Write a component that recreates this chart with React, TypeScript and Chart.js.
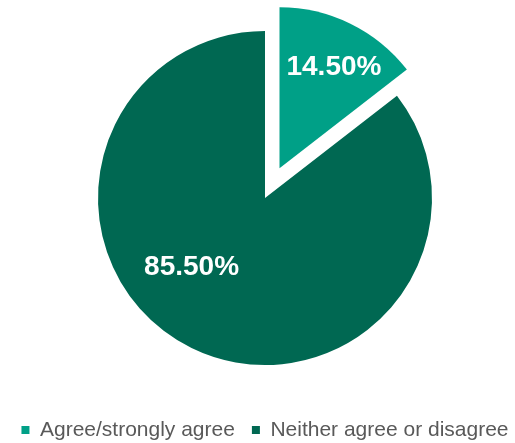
import { useEffect, useRef } from 'react';
import { Chart, registerables } from 'chart.js';

Chart.register(...registerables);

// ---- data ----
const categories = ['Agree/strongly agree', 'Neither agree or disagree'];
const shares = [14.5, 85.5];
const valueLabels = ['14.50%', '85.50%'];

// ---- styling ----
const sliceColors = ['#00A087', '#006852'];
const explodeDistance = [33, 0];
const sliceRadiusScale = [0.965, 1];
const labelRadiusFrac = [0.71, 0.605];
const labelAngleShiftDeg = [2.3, 20.5];

const FONT = '"Liberation Sans", Arial, sans-serif';

const explodePlugin = {
  id: 'explodeSlices',
  afterDatasetsUpdate(chart: any) {
    const meta = chart.getDatasetMeta(0);
    meta.data.forEach((arc: any, i: number) => {
      const mid = (arc.startAngle + arc.endAngle) / 2;
      const d = explodeDistance[i] || 0;
      arc.x += Math.cos(mid) * d;
      arc.y += Math.sin(mid) * d;
      arc.outerRadius *= sliceRadiusScale[i] ?? 1;
    });
  },
};

const valueLabelPlugin = {
  id: 'valueLabels',
  afterDatasetsDraw(chart: any) {
    const ctx = chart.ctx;
    const meta = chart.getDatasetMeta(0);
    ctx.save();
    ctx.fillStyle = '#FFFFFF';
    ctx.font = `bold 28px ${FONT}`;
    ctx.textAlign = 'center';
    ctx.textBaseline = 'middle';
    meta.data.forEach((arc: any, i: number) => {
      const mid = (arc.startAngle + arc.endAngle) / 2 + (labelAngleShiftDeg[i] * Math.PI) / 180;
      const r = arc.outerRadius * labelRadiusFrac[i];
      ctx.fillText(valueLabels[i], arc.x + Math.cos(mid) * r, arc.y + Math.sin(mid) * r);
    });
    ctx.restore();
  },
};

export default function App() {
  const canvasRef = useRef<HTMLCanvasElement | null>(null);

  useEffect(() => {
    if (!canvasRef.current) return;
    const chart = new Chart(canvasRef.current, {
      type: 'pie',
      data: {
        labels: categories,
        datasets: [
          {
            data: shares,
            backgroundColor: sliceColors,
            borderWidth: 0,
          },
        ],
      },
      options: {
        animation: false,
        responsive: true,
        maintainAspectRatio: false,
        radius: 167,
        layout: { padding: { top: 13.5, bottom: 12.5, left: 15, right: 0 } },
        plugins: {
          tooltip: { enabled: false },
          legend: {
            position: 'bottom',
            labels: {
              boxWidth: 8,
              boxHeight: 8,
              padding: 17,
              color: '#595959',
              font: { family: FONT, size: 21 },
            },
          },
        },
      } as any,
      plugins: [explodePlugin, valueLabelPlugin],
    });
    return () => chart.destroy();
  }, []);

  return (
    <div style={{ position: 'absolute', left: 0, top: 0, width: 515, height: 443, overflow: 'hidden', background: '#fff' }}>
      <div style={{ position: 'absolute', left: -30, top: -20, width: 575, height: 483 }}>
        <canvas ref={canvasRef} />
      </div>
    </div>
  );
}
